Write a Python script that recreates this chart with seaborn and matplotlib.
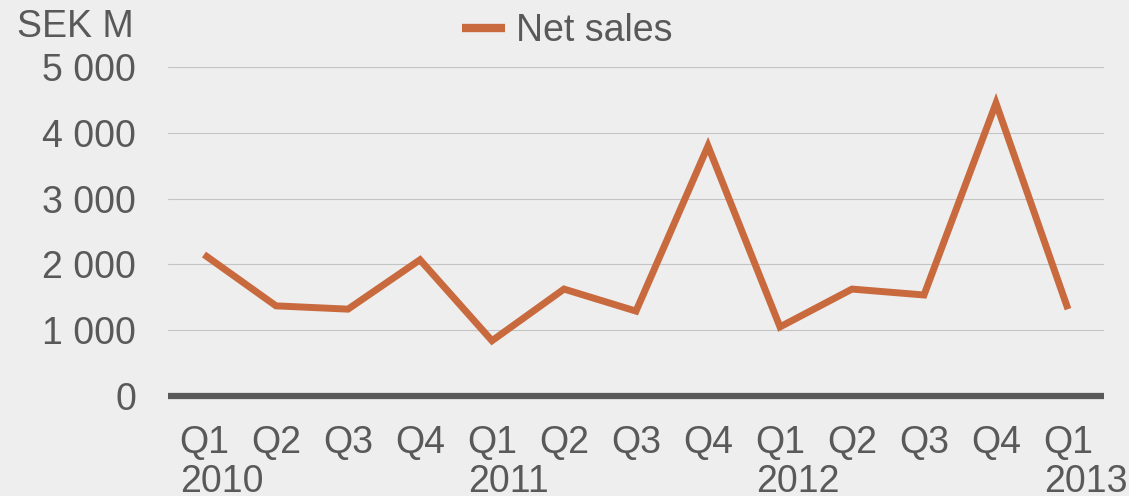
import numpy as np
import pandas as pd
import matplotlib
matplotlib.use("Agg")
import matplotlib.pyplot as plt
import matplotlib.transforms as mtransforms
import seaborn as sns

quarters = ["Q1", "Q2", "Q3", "Q4", "Q1", "Q2", "Q3", "Q4", "Q1", "Q2", "Q3", "Q4", "Q1"]
years = ["2010", "", "", "", "2011", "", "", "", "2012", "", "", "", "2013"]
net_sales = [2150, 1370, 1320, 2070, 840, 1625, 1290, 3800, 1050, 1625, 1535, 4450, 1320]
y_ticks = [0, 1000, 2000, 3000, 4000, 5000]
y_labels = ["0", "1 000", "2 000", "3 000", "4 000", "5 000"]

bg = "#eeeeee"
txt = "#595959"
orange = "#c96a3e"
fs = 27

sns.set_style("white")
plt.rcParams["font.family"] = ["Liberation Sans", "DejaVu Sans"]

df = pd.DataFrame({"idx": np.arange(len(net_sales)), "sales": net_sales})

fig = plt.figure(figsize=(11.29, 4.96), dpi=100, facecolor=bg)
ax = fig.add_axes([168 / 1129, 1 - 396 / 496, (1104 - 168) / 1129, (396 - 67) / 496])
ax.set_facecolor(bg)

sns.lineplot(data=df, x="idx", y="sales", ax=ax, color=orange, linewidth=5,
             label="Net sales", solid_joinstyle="miter", solid_capstyle="butt", zorder=3)

ax.set_xlim(-0.5, len(net_sales) - 0.5)
ax.set_ylim(0, 5000)
ax.set_yticks(y_ticks)
ax.set_yticklabels(y_labels)
ax.set_xticks(df["idx"])
ax.set_xticklabels(quarters)
ax.set_xlabel("")
ax.set_ylabel("")

for v in y_ticks[1:]:
    ax.axhline(v, color="#c4c4c4", linewidth=0.8, zorder=1)
ax.axhline(0, color="#595959", linewidth=4.5, zorder=4, clip_on=False,
           solid_capstyle="butt")

for s in ax.spines.values():
    s.set_visible(False)

ax.tick_params(axis="both", length=0, colors=txt, labelsize=fs)
ax.tick_params(axis="y", pad=23)
ax.tick_params(axis="x", pad=21)

trans = mtransforms.blended_transform_factory(ax.transData, ax.transAxes)
for i, yr in enumerate(years):
    if yr:
        ax.annotate(yr, xy=(i, 0), xycoords=trans, xytext=(-17, -69),
                    textcoords="offset points", ha="left", va="baseline",
                    fontsize=fs, color=txt, annotation_clip=False)

fig.text(134 / 1129, 1 - 27 / 496, "SEK M", ha="right", va="center",
         fontsize=fs, color=txt)

leg = ax.legend(loc="center", bbox_to_anchor=(567 / 1129, 1 - 31 / 496),
                bbox_transform=fig.transFigure, frameon=False, fontsize=fs,
                handlelength=1.15, handletextpad=0.3, labelcolor=txt)
for h in leg.get_lines():
    h.set_linewidth(6)
    h.set_solid_capstyle("butt")

fig.savefig("out.png", dpi=100, facecolor=bg)
